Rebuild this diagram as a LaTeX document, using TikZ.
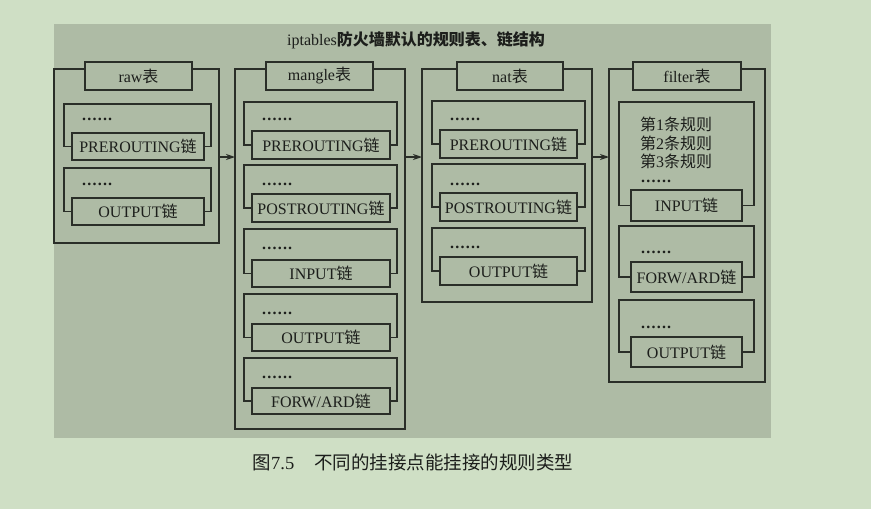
\documentclass[tikz,border=0pt]{standalone}
\usepackage{fontspec}
\setmainfont{Liberation Serif}
\newfontfamily\cjk{Noto Sans CJK SC}
\usetikzlibrary{fit,arrows.meta}
\definecolor{bgc}{HTML}{CFDFC5}
\definecolor{panelc}{HTML}{AEBBA5}
\definecolor{linec}{HTML}{2A2E28}
\definecolor{txtc}{HTML}{1C1E1B}
\newcommand\zh[1]{{\cjk #1}}
\newcommand\sixdots{\textbf{.\hspace{1.2pt}.\hspace{1.2pt}.\hspace{1.2pt}.\hspace{1.2pt}.\hspace{1.2pt}.}}
% chain group: #1 name, #2 bracket top, #3 box top, #4 box bottom, #5 text, #6 dots baseline
\newcommand\chaingrp[6]{%
  \node[frame, fit={(\Cl,#3) (\Cr,#4)}] (#1) {};
  \node[txt] (#1l) at (#1.center) {#5};
  \draw[ln] (#1.west) -| (\Bl,#2) -- (\Br,#2) |- (#1.east);
  \node[txt, anchor=base west] (#1d) at (\Cl+10,#6) {\sixdots};
}
% table frame: #1 name, #2 outer corners, #3 title corners, #4 label
\newcommand\tableframe[4]{%
  \node[inner sep=0pt, outer sep=0pt, fit={#2}] (#1O) {};
  \node[frame, fit={#3}] (#1T) {};
  \node[txt] (#1l) at (#1T.center) {#4};
  \draw[ln] (#1T.west |- #1O.north) -- (#1O.north west) -- (#1O.south west)
    -- (#1O.south east) -- (#1O.north east) -- (#1T.east |- #1O.north);
}
\begin{document}
\begin{tikzpicture}[x=1pt,y=-1pt,
  ln/.style={draw=linec, line width=1.1pt},
  frame/.style={ln, inner sep=0pt, outer sep=0pt},
  txt/.style={font=\fontsize{16}{19}\selectfont, text=txtc, inner sep=0pt},
  arr/.style={draw=linec, line width=1.1pt, -{Stealth[length=9pt,width=6pt]}}]
\useasboundingbox (0,0) rectangle (871,509);
\fill[bgc] (0,0) rectangle (871,509);
\fill[panelc] (54,24) rectangle (771,438);

\node[txt] (title) at (416,40) {iptables\zh{\bfseries 防火墙默认的规则表、链结构}};

% raw
\tableframe{raw}{(54,69) (219,243)}{(85,62) (192,90)}{raw\zh{表}}
\def\Bl{64}\def\Br{211}\def\Cl{72}\def\Cr{204}
\chaingrp{rawpre}{104}{133}{160}{PREROUTING\zh{链}}{120.5}
\chaingrp{rawout}{168}{198}{225}{OUTPUT\zh{链}}{185.5}

% mangle
\tableframe{mangle}{(235,69) (405,429)}{(266,62) (373,90)}{mangle\zh{表}}
\def\Bl{244}\def\Br{397}\def\Cl{252}\def\Cr{390}
\chaingrp{mpre}{102}{131}{159}{PREROUTING\zh{链}}{120.5}
\chaingrp{mpost}{165}{194}{222}{POSTROUTING\zh{链}}{185.5}
\chaingrp{min}{229}{260}{287}{INPUT\zh{链}}{249.5}
\chaingrp{mout}{294}{324}{351}{OUTPUT\zh{链}}{314.5}
\chaingrp{mfwd}{358}{388}{414}{FORW/ARD\zh{链}}{378}

% nat
\tableframe{nat}{(422,69) (592,302)}{(457,62) (563,90)}{nat\zh{表}}
\def\Bl{432}\def\Br{585}\def\Cl{440}\def\Cr{577}
\chaingrp{npre}{101}{130}{158}{PREROUTING\zh{链}}{120.5}
\chaingrp{npost}{164}{193}{221}{POSTROUTING\zh{链}}{185.5}
\chaingrp{nout}{228}{257}{285}{OUTPUT\zh{链}}{248.5}

% filter
\tableframe{filter}{(609,69) (765,382)}{(633,62) (741,90)}{filter\zh{表}}
\def\Bl{619}\def\Br{754}\def\Cl{631}\def\Cr{742}
\chaingrp{fin}{102}{190}{221}{INPUT\zh{链}}{182.5}
\chaingrp{ffwd}{226}{262}{292}{FORW/ARD\zh{链}}{253.5}
\chaingrp{fout}{300}{337}{367}{OUTPUT\zh{链}}{328.5}
\node[txt, anchor=base west] (r1) at (640,130.5) {\zh{第}1\zh{条规则}};
\node[txt, anchor=base west] (r2) at (640,149) {\zh{第}2\zh{条规则}};
\node[txt, anchor=base west] (r3) at (640,167.5) {\zh{第}3\zh{条规则}};

% arrows
\draw[arr] (rawO.east |- 0,157) -- (mangleO.west |- 0,157);
\draw[arr] (mangleO.east |- 0,157) -- (natO.west |- 0,157);
\draw[arr] (natO.east |- 0,157) -- (filterO.west |- 0,157);

% caption
\node[txt, font=\fontsize{18.5}{22}\selectfont] (cap) at (413,462)
  {\zh{图}7.5\hspace{20pt}\zh{不同的挂接点能挂接的规则类型}};
\end{tikzpicture}
\end{document}
